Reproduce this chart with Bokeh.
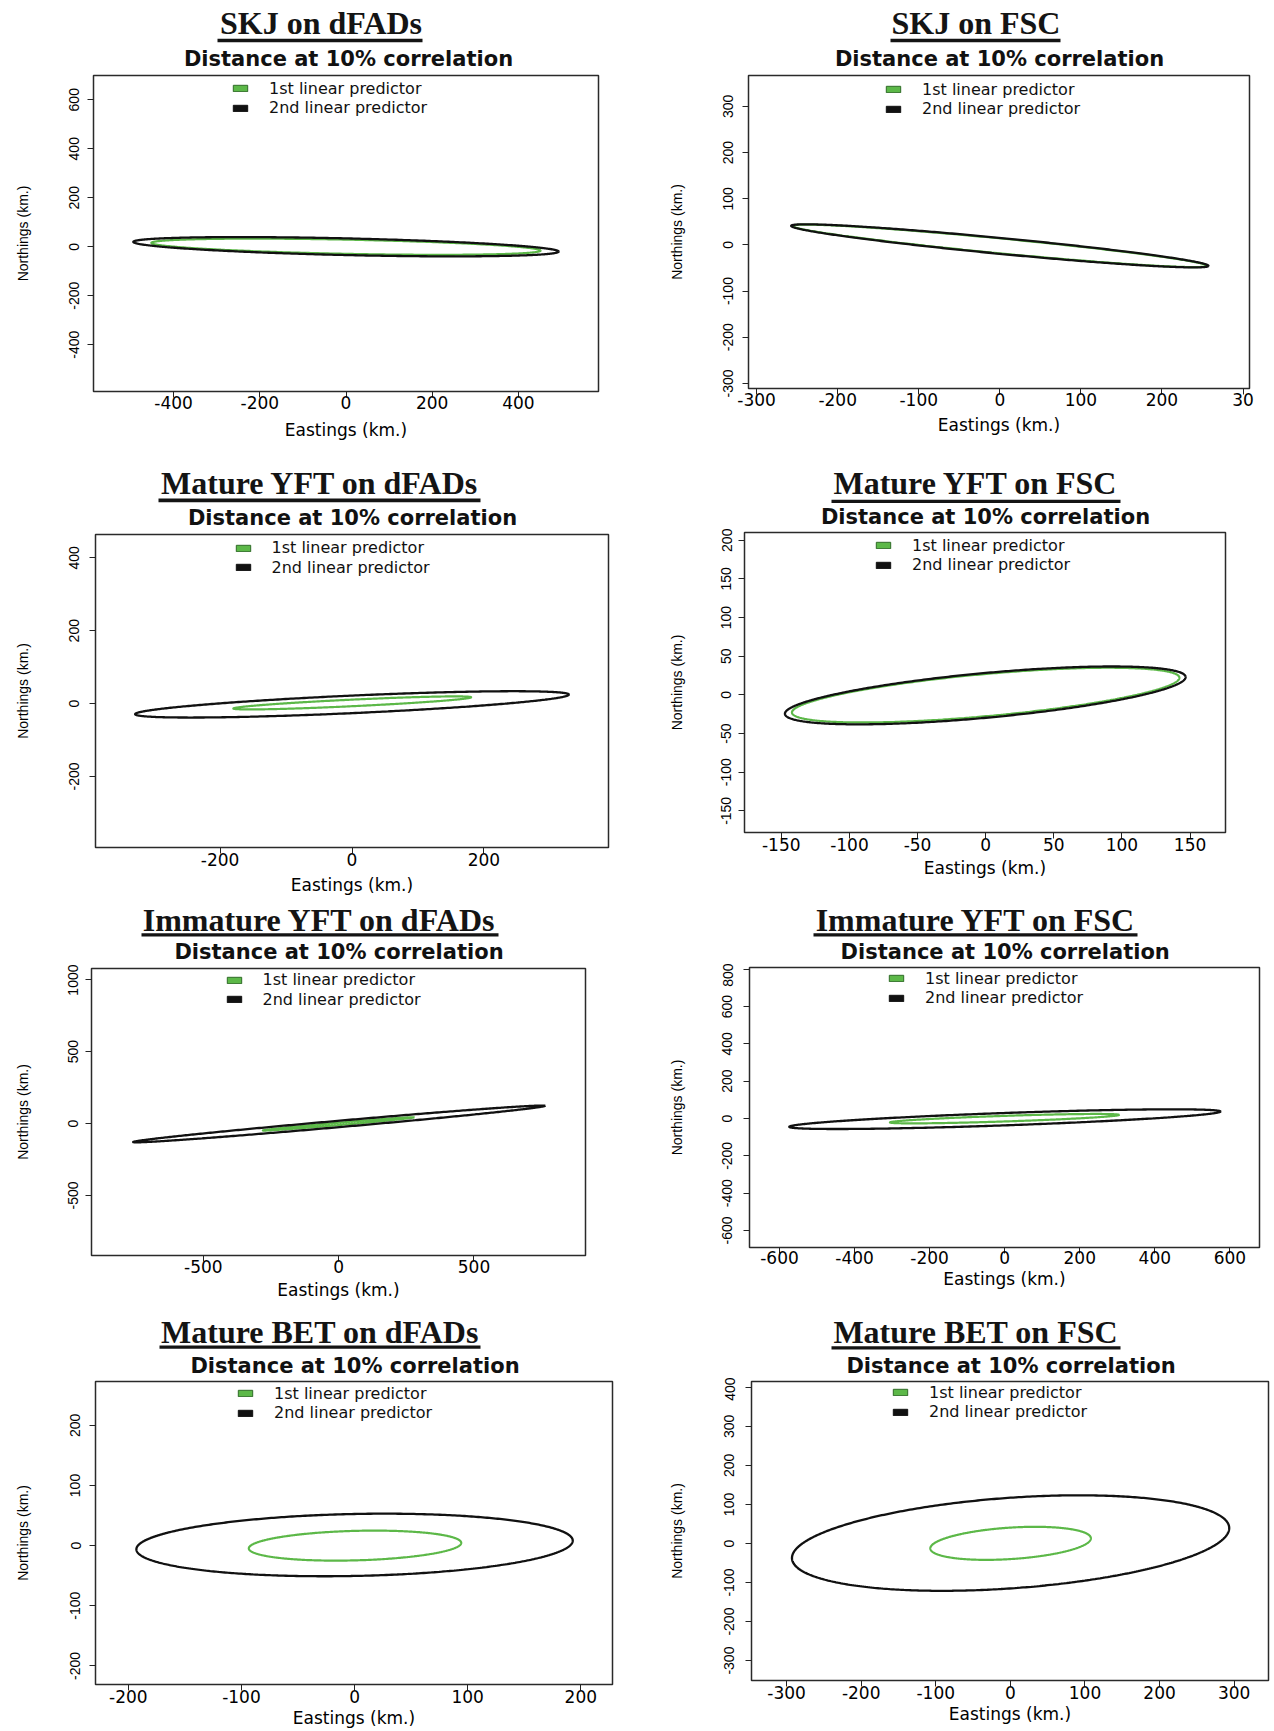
import numpy as np
from bokeh.plotting import figure
from bokeh.layouts import column, row
from bokeh.models import Range1d, FixedTicker, Label, BoxAnnotation, Legend, LegendItem
from bokeh.embed import file_html
from bokeh.resources import INLINE

# ---------------- data ----------------
panel_titles = ["SKJ on dFADs", "SKJ on FSC",
                "Mature YFT on dFADs", "Mature YFT on FSC",
                "Immature YFT on dFADs", "Immature YFT on FSC",
                "Mature BET on dFADs", "Mature BET on FSC"]
subtitle_text = "Distance at 10% correlation"
series_labels = ["1st linear predictor", "2nd linear predictor"]
x_axis_label = "Eastings (km.)"
y_axis_label = "Northings (km.)"

x_limits = [(-586, 586), (-310, 308), (-389, 389), (-177, 176),
            (-913, 912), (-680, 679), (-229, 228), (-347, 346)]
y_limits = [(-591, 699), (-311, 367), (-395, 464), (-178, 210),
            (-917, 1078), (-691, 809), (-231, 273), (-351, 415)]

x_ticks = [[-400, -200, 0, 200, 400],
           [-300, -200, -100, 0, 100, 200, 300],
           [-200, 0, 200],
           [-150, -100, -50, 0, 50, 100, 150],
           [-500, 0, 500],
           [-600, -400, -200, 0, 200, 400, 600],
           [-200, -100, 0, 100, 200],
           [-300, -200, -100, 0, 100, 200, 300]]
y_ticks = [[-400, -200, 0, 200, 400, 600],
           [-300, -200, -100, 0, 100, 200, 300],
           [-200, 0, 200, 400],
           [-150, -100, -50, 0, 50, 100, 150, 200],
           [-500, 0, 500, 1000],
           [-600, -400, -200, 0, 200, 400, 600, 800],
           [-200, -100, 0, 100, 200],
           [-300, -200, -100, 0, 100, 200, 300, 400]]
# the right-most label of the SKJ on FSC panel is cut to "30" in the original
x_tick_label_cut = [{}, {300: "30"}, {}, {}, {}, {}, {}, {}]

# ellipse parameters (km): centre, semi-axes, rotation (degrees)
first_cx = [0, 0, 0.4, 0, -0.8, -0.5, 0.4, 0.3]
first_cy = [0, -2, 1.8, -0.3, -2.3, -0.8, 0, 0.4]
first_a = [452, 259, 181, 144, 283, 306, 94, 108.5]
first_b = [29, 16, 9, 27, 8, 15, 24.5, 40]
first_angle = [-2.0, -9.6, 4.9, 9.3, 9.3, 3.8, 3.0, 7.9]

second_cx = [0, 0, 0, -0.3, 1.5, 0.5, 0, 0.3]
second_cy = [0, -2, -2.2, -0.7, -2.5, -3.5, 1.1, 1.1]
second_a = [494, 261, 330, 149, 771, 576, 193, 296]
second_b = [34, 17, 24, 28.6, 22, 33, 51.5, 115]
second_angle = [-2.3, -9.6, 4.7, 9.5, 9.4, 4.1, 2.3, 8.8]

# ---------------- layout (page pixel targets) ----------------
col_x0 = [0, 640]
col_w = [640, 634]
row_y0 = [0, 442, 897, 1302]
row_bb = [50, 50, 47, 45]        # common bottom border per row
BT = 4                            # top border of plot figures

frames = [(93, 598, 75, 392), (748, 1249, 75, 388),
          (95, 608, 534, 847), (744, 1225, 532, 832),
          (91, 585, 968, 1255), (749, 1259, 967, 1247),
          (95, 612, 1381, 1685), (751, 1268, 1381, 1681)]
d_ytick = [18.5, 20, 21, 18, 18, 21.5, 19.5, 21.5]
d_ylab = [69.5, 70, 71, 66, 67, 71.5, 71.5, 73]
d_xtick = [11.5, 11, 12, 12, 11.7, 10, 12, 12]
xlab_base = [436, 430.7, 890.7, 874, 1295.7, 1285, 1725, 1721]

title_cx = [320.5, 975.5, 319.5, 975.3, 319, 975.3, 319.5, 975.3]
title_base = [33.3, 33.3, 493.3, 493.3, 930, 930, 1341.7, 1342.3]
uline_x = [(217, 422), (890, 1060), (158, 480), (831, 1120),
           (141, 498), (813, 1137), (159, 480), (831, 1120)]
uline_y = [(38.3, 41.7), (38.3, 41.7), (498, 501.7), (499.3, 502.5),
           (932.7, 936), (932.7, 936), (1345, 1348.3), (1345.7, 1349)]
sub_cx = [348, 999, 352, 985, 338.5, 1004.7, 354.5, 1010.5]
sub_base = [66, 66, 525, 524, 959.3, 959.3, 1372.7, 1372.7]
swatch_left = [231, 884, 233.5, 874, 224.5, 887, 236, 891]
legend_mid = [24, 24, 23.5, 23, 21.3, 21, 22.8, 22]   # below frame top
LEG_PITCH = 19.5
LEG_H = 20

GREEN = "#5cb848"
GREEN_EDGE = "#2f6b27"
BLACK = "#111111"


def ellipse_outline(cx, cy, a, b, ang_deg, n=500):
    t = np.linspace(0, 2 * np.pi, n)
    th = np.deg2rad(ang_deg)
    x = cx + a * np.cos(t) * np.cos(th) - b * np.sin(t) * np.sin(th)
    y = cy + a * np.cos(t) * np.sin(th) + b * np.sin(t) * np.cos(th)
    return x, y


def rnd(v):
    return int(np.floor(v + 0.5))


cols = []
for i in range(8):
    c, r = i % 2, i // 2
    cx0, cw = col_x0[c], col_w[c]
    y0 = row_y0[r]
    bb = row_bb[r]
    L, R, T, B = frames[i]
    fh = B - T

    # ---- header figure: title, underline, subtitle ----
    hh = T - BT - y0
    h = figure(width=cw, height=hh, output_backend="svg", toolbar_location=None, title=None,
               x_axis_location=None, y_axis_location=None, min_border=0,
               x_range=Range1d(0, 1), y_range=Range1d(0, 1))
    h.outline_line_color = None
    h.grid.visible = False
    h.background_fill_color = "white"
    h.border_fill_color = "white"
    h.add_layout(Label(x=title_cx[i] - cx0, y=title_base[i] - 10.7 - y0,
                       x_units="canvas", y_units="canvas", text=panel_titles[i],
                       text_align="center", text_baseline="middle",
                       text_font="Liberation Serif", text_font_style="bold",
                       text_font_size="32px", text_color="#141414"))
    ul, ur = uline_x[i]
    ut, ub = uline_y[i]
    h.add_layout(BoxAnnotation(left=ul - cx0, right=ur - cx0,
                               top=ut - y0, bottom=ub - y0,
                               left_units="canvas", right_units="canvas",
                               top_units="canvas", bottom_units="canvas",
                               fill_color="#141414", fill_alpha=1.0, line_color=None))
    h.add_layout(Label(x=sub_cx[i] - cx0, y=sub_base[i] - 7.5 - y0,
                       x_units="canvas", y_units="canvas", text=subtitle_text,
                       text_align="center", text_baseline="middle",
                       text_font="DejaVu Sans", text_font_style="bold",
                       text_font_size="21px", text_color="#111111"))

    # ---- plot figure ----
    p = figure(width=cw, height=fh + BT + bb,
               x_range=Range1d(*x_limits[i]), y_range=Range1d(*y_limits[i]),
               output_backend="svg", toolbar_location=None, title=None,
               min_border_left=L - cx0, min_border_right=cx0 + cw - R,
               min_border_top=BT, min_border_bottom=bb)
    p.background_fill_color = "white"
    p.border_fill_color = "white"
    p.grid.visible = False
    p.outline_line_color = "#2a2a2a"
    p.outline_line_width = 1.5

    gx, gy = ellipse_outline(first_cx[i], first_cy[i], first_a[i], first_b[i], first_angle[i])
    kx, ky = ellipse_outline(second_cx[i], second_cy[i], second_a[i], second_b[i], second_angle[i])
    p.line(gx, gy, line_color=GREEN, line_width=2.2)
    p.line(kx, ky, line_color=BLACK, line_width=2.3)

    # legend swatches (renderers without visible geometry)
    r1 = p.quad(left=[np.nan], right=[np.nan], bottom=[np.nan], top=[np.nan],
                fill_color=GREEN, line_color=GREEN_EDGE, line_width=1)
    r2 = p.quad(left=[np.nan], right=[np.nan], bottom=[np.nan], top=[np.nan],
                fill_color=BLACK, line_color=BLACK, line_width=1)
    centres = (legend_mid[i] - LEG_PITCH / 2, legend_mid[i] + LEG_PITCH / 2)
    for rr, lab, cyo in ((r1, series_labels[0], centres[0]),
                         (r2, series_labels[1], centres[1])):
        leg = Legend(items=[LegendItem(label=lab, renderers=[rr])],
                     location=(swatch_left[i] - L, fh - (cyo - LEG_H / 2) - LEG_H),
                     orientation="vertical", margin=0, padding=0, spacing=0,
                     glyph_width=18, glyph_height=8, label_standoff=20,
                     label_height=LEG_H,
                     label_text_font="DejaVu Sans", label_text_font_size="16px",
                     label_text_color="#111111",
                     background_fill_alpha=0, border_line_alpha=0)
        p.add_layout(leg)

    # x axis
    xa = p.xaxis[0]
    xa.ticker = FixedTicker(ticks=x_ticks[i])
    xover = {v: str(v) for v in x_ticks[i]}
    xover.update(x_tick_label_cut[i])
    xa.major_label_overrides = xover
    xa.axis_line_color = None
    xa.major_tick_out = 6
    xa.major_tick_in = 0
    xa.major_tick_line_color = "#222222"
    xa.minor_tick_line_color = None
    xa.major_label_text_font = "DejaVu Sans"
    xa.major_label_text_font_size = "17px"
    xa.major_label_text_color = "black"
    sx = rnd(d_xtick[i] - 13.3)
    xa.major_label_standoff = sx
    xa.axis_label = x_axis_label
    xa.axis_label_text_font = "DejaVu Sans"
    xa.axis_label_text_font_size = "17px"
    xa.axis_label_text_font_style = "normal"
    xa.axis_label_text_color = "black"
    d_cap = xlab_base[i] - 6.2 - B
    xa.axis_label_standoff = rnd(d_cap - 32.3 - sx)

    # y axis
    ya = p.yaxis[0]
    ya.ticker = FixedTicker(ticks=y_ticks[i])
    ya.major_label_overrides = {v: str(v) for v in y_ticks[i]}
    ya.axis_line_color = None
    ya.major_tick_out = 6
    ya.major_tick_in = 0
    ya.major_tick_line_color = "#222222"
    ya.minor_tick_line_color = None
    ya.major_label_orientation = "vertical"
    ya.major_label_text_font = "Liberation Sans"
    ya.major_label_text_font_size = "14px"
    ya.major_label_text_color = "black"
    sy = rnd(d_ytick[i] - 10.55)
    ya.major_label_standoff = sy
    ya.axis_label = y_axis_label
    ya.axis_label_text_font = "Liberation Sans"
    ya.axis_label_text_font_size = "14px"
    ya.axis_label_text_font_style = "normal"
    ya.axis_label_text_color = "black"
    ya.axis_label_standoff = rnd(d_ylab[i] - 25.35 - sy)

    cols.append(column(h, p))

layout = column(row(cols[0], cols[1]), row(cols[2], cols[3]),
                row(cols[4], cols[5]), row(cols[6], cols[7]))

open("out.html", "w").write(file_html(layout, INLINE, "Distance at 10% correlation"))
